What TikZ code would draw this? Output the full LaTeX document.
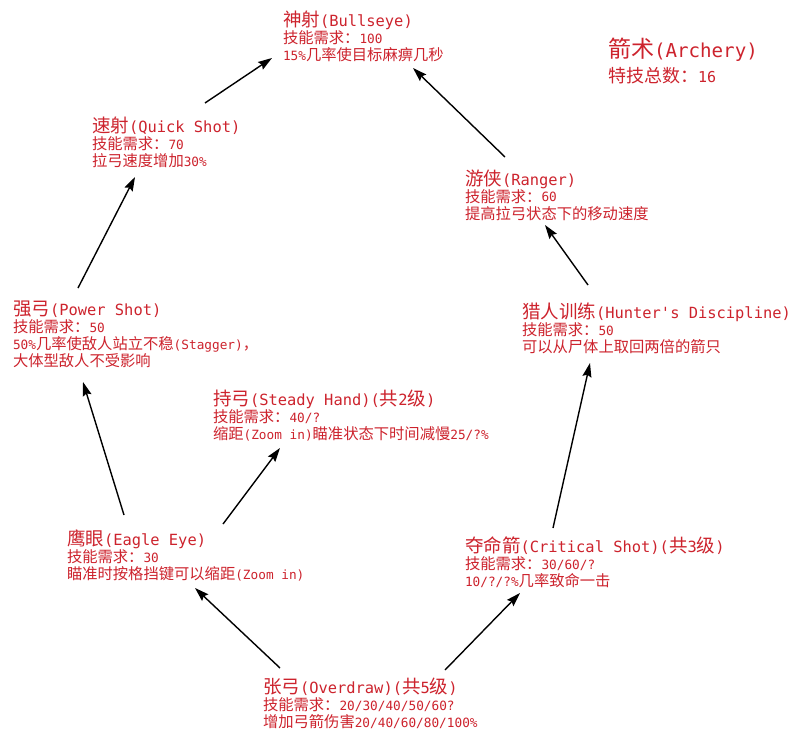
\documentclass[tikz,border=0pt]{standalone}
\usepackage{fontspec}
\setmainfont{Noto Sans CJK SC}
\newfontfamily\latmono{DejaVu Sans Mono}[Scale=0.8333]
\usetikzlibrary{arrows.meta,calc}
\definecolor{skillred}{RGB}{205,35,45}
\newcommand{\lat}[1]{{\latmono #1}}
\tikzset{
  skill/.style={anchor=north west, inner sep=0pt, outer sep=0pt, align=left,
    text=skillred, font=\fontsize{15.3}{17}\selectfont},
  arr/.style={draw=black, line width=1.4pt, -{Stealth[length=14pt,width=9pt,inset=2pt]}}
}
\newcommand{\ttl}[1]{{\fontsize{18.5}{17}\selectfont\rule{0pt}{17pt}#1}}
\begin{document}
\begin{tikzpicture}[x=1pt,y=-1pt]
\useasboundingbox (0,0) rectangle (800,738);
\fill[white] (0,0) rectangle (800,738);
\node[skill] (be) at (283,10) {\ttl{神射\lat{(Bullseye)}}\\技能需求：\lat{100}\\\lat{15\%}几率使目标麻痹几秒};
\node[skill] (qs) at (92,116) {\ttl{速射\lat{(Quick Shot)}}\\技能需求：\lat{70}\\拉弓速度增加\lat{30\%}};
\node[skill] (ps) at (13,298) {\ttl{强弓\lat{(Power Shot)}}\\技能需求：\lat{50}\\\lat{50\%}几率使敌人站立不稳\lat{(Stagger)}，\\大体型敌人不受影响};
\node[skill] (sh) at (213,388) {\ttl{持弓\lat{(Steady Hand)(}共\lat{2}级\lat{)}}\\技能需求：\lat{40/?}\\缩距\lat{(Zoom in)}瞄准状态下时间减慢\lat{25/?\%}};
\node[skill] (ee) at (67,528) {\ttl{鹰眼\lat{(Eagle Eye)}}\\技能需求：\lat{30}\\瞄准时按格挡键可以缩距\lat{(Zoom in)}};
\node[skill] (od) at (263,676) {\ttl{张弓\lat{(Overdraw)(}共\lat{5}级\lat{)}}\\技能需求：\lat{20/30/40/50/60?}\\增加弓箭伤害\lat{20/40/60/80/100\%}};
\node[skill] (cs) at (465,535) {\ttl{夺命箭\lat{(Critical Shot)(}共\lat{3}级\lat{)}}\\技能需求：\lat{30/60/?}\\\lat{10/?/?\%}几率致命一击};
\node[skill] (hd) at (522,301) {\ttl{猎人训练\lat{(Hunter's Discipline)}}\\技能需求：\lat{50}\\可以从尸体上取回两倍的箭只};
\node[skill] (rg) at (465,168) {\ttl{游侠\lat{(Ranger)}}\\技能需求：\lat{60}\\提高拉弓状态下的移动速度};
\node[skill, font=\fontsize{18}{25}\selectfont] (ar) at (608,38) {{\fontsize{23}{25}\selectfont\rule{0pt}{20pt}箭术\lat{(Archery)}}\\特技总数：\lat{16}};
\draw[arr] ($(qs.north west)+(113,-13)$) -- ($(be.north west)+(-11,48)$);
\draw[arr] ($(ps.north west)+(65,-10)$) -- ($(qs.north west)+(43,61)$);
\draw[arr] ($(ee.north west)+(57,-13)$) -- ($(ps.north west)+(70,84)$);
\draw[arr] ($(ee.north west)+(156,-4)$) -- ($(sh.north west)+(67,60)$);
\draw[arr] ($(od.north west)+(17,-8)$) -- ($(ee.north west)+(128,60)$);
\draw[arr] ($(od.north west)+(182,-6)$) -- ($(cs.north west)+(55,58)$);
\draw[arr] ($(cs.north west)+(88,-7)$) -- ($(hd.north west)+(68,62)$);
\draw[arr] ($(hd.north west)+(66,-16)$) -- ($(rg.north west)+(80,57)$);
\draw[arr] ($(rg.north west)+(40,-11)$) -- ($(be.north west)+(130,58)$);
\end{tikzpicture}
\end{document}
